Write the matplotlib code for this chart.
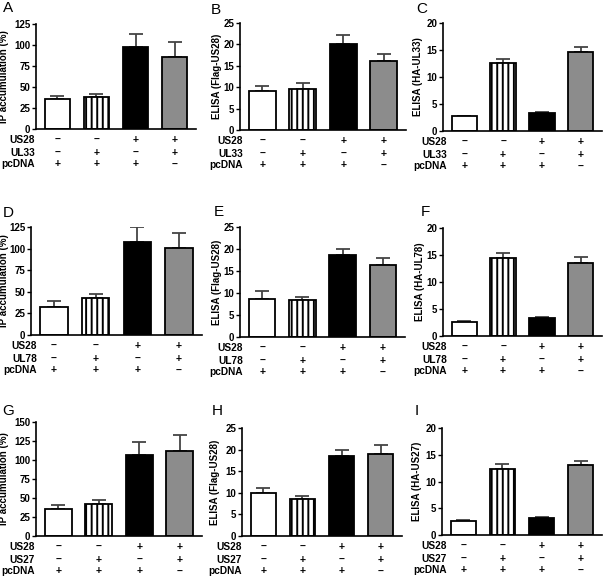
import matplotlib
matplotlib.use("Agg")
import matplotlib.pyplot as plt

plt.rcParams['font.family'] = ['Liberation Sans', 'DejaVu Sans']
plt.rcParams['hatch.linewidth'] = 1.4
plt.rcParams['hatch.color'] = 'black'

W, H = 608, 577

# ---------------- data ----------------
conditions = ["US28 only", "X only", "US28 + X", "US28 + X (no pcDNA)"]
row_us28 = ["–", "–", "+", "+"]
row_x = ["–", "+", "–", "+"]
row_pcdna = ["+", "+", "+", "–"]
cotransfected = ["UL33", "UL78", "US27"]

vals_A = [35.3, 37.7, 97.6, 85.7]
errs_A = [4.4, 4.3, 15.1, 17.3]
vals_B = [9.2, 9.6, 20.2, 16.1]
errs_B = [1.1, 1.3, 2.1, 1.6]
vals_C = [2.7, 12.6, 3.35, 14.6]
errs_C = [0.15, 0.7, 0.1, 0.9]
vals_D = [32.9, 42.6, 108.0, 100.6]
errs_D = [7.0, 5.0, 16.6, 17.0]
vals_E = [8.6, 8.3, 18.6, 16.3]
errs_E = [1.9, 0.9, 1.4, 1.7]
vals_F = [2.65, 14.5, 3.3, 13.6]
errs_F = [0.12, 0.9, 0.15, 1.0]
vals_G = [35.1, 42.1, 107.0, 112.3]
errs_G = [5.7, 4.8, 16.2, 20.6]
vals_H = [9.9, 8.5, 18.5, 18.9]
errs_H = [1.3, 0.8, 1.5, 2.1]
vals_I = [2.6, 12.3, 3.25, 13.1]
errs_I = [0.15, 1.0, 0.1, 0.8]

ylabels = ["IP accumulation (%)", "ELISA (Flag-US28)", "ELISA (HA-{})"]

# ---------------- styles ----------------
fills = ["white", "white", "black", "#8c8c8c"]
hatches = [None, "|||", None, None]

# panel rects in pixels: left, top, right, bottom; ylabel x px; row-label right px; letter pos
panels = [
    ("A", vals_A, errs_A, 0, 0, (36, 24, 196, 129), 125, 25, 9, 35, (8, 8)),
    ("B", vals_B, errs_B, 0, 1, (240, 23, 406, 130), 25, 5, 222, 243, (216, 10)),
    ("C", vals_C, errs_C, 0, 2, (443, 23, 602, 131), 20, 5, 423, 447, (422, 9)),
    ("D", vals_D, errs_D, 1, 0, (31, 227, 202, 335), 125, 25, 9, 37, (8, 213)),
    ("E", vals_E, errs_E, 1, 1, (240, 227, 405, 337), 25, 5, 222, 243, (219, 212)),
    ("F", vals_F, errs_F, 1, 2, (443, 228, 602, 336), 20, 5, 425, 447, (425, 212)),
    ("G", vals_G, errs_G, 2, 0, (36, 422, 202, 536), 150, 25, 9, 35, (8, 411)),
    ("H", vals_H, errs_H, 2, 1, (242, 428, 402, 536), 25, 5, 220, 242, (217, 411)),
    ("I", vals_I, errs_I, 2, 2, (442, 428, 602, 535), 20, 5, 422, 447, (417, 411)),
]

fig = plt.figure(figsize=(W / 100, H / 100), dpi=100)

for letter, vals, errs, row, col, (l, t, r, b), ymax, ystep, labx, rowx, (lx, ly) in panels:
    ax = fig.add_axes([l / W, 1 - b / H, (r - l) / W, (b - t) / H])
    x = list(range(len(vals)))
    for i in x:
        ax.bar(i, vals[i], width=0.66, color=fills[i], edgecolor="black",
               linewidth=1.3, hatch=hatches[i], zorder=2)
    ax.errorbar(x, vals, yerr=[[0] * len(errs), errs], fmt="none",
                ecolor="#444444", elinewidth=1.3, capsize=5, capthick=1.3,
                zorder=1)
    ax.set_xlim(-0.55, 3.55)
    ax.set_ylim(0, ymax)
    ax.set_yticks(list(range(0, ymax + 1, ystep)))
    ax.set_xticks([])
    for s in ("top", "right"):
        ax.spines[s].set_visible(False)
    for s in ("left", "bottom"):
        ax.spines[s].set_linewidth(1.2)
    ax.tick_params(axis="y", length=3, width=1, pad=1, labelsize=7)
    for lab in ax.get_yticklabels():
        lab.set_fontweight("bold")
    ylab = ylabels[col].format(cotransfected[row])
    ax.set_ylabel(ylab, fontsize=7, fontweight="bold")
    ax.yaxis.set_label_coords((labx - l) / (r - l), 0.5)

    rows = [("US28", row_us28), (cotransfected[row], row_x), ("pcDNA", row_pcdna)]
    offsets = [-8, -17.3, -25.5]
    for (name, signs), off in zip(rows, offsets):
        ax.annotate(name, xy=((rowx - l) / (r - l), 0), xycoords="axes fraction",
                    xytext=(0, off), textcoords="offset points",
                    ha="right", va="center", fontsize=7.3, fontweight="bold")
        for i, sgn in enumerate(signs):
            ax.annotate(sgn, xy=(i, 0), xycoords=("data", "axes fraction"),
                        xytext=(0, off), textcoords="offset points",
                        ha="center", va="center", fontsize=7.5,
                        fontweight="bold")

    fig.text(lx / W, 1 - ly / H, letter, fontsize=11, ha="center",
             va="center")

fig.savefig("out.png", dpi=100)
